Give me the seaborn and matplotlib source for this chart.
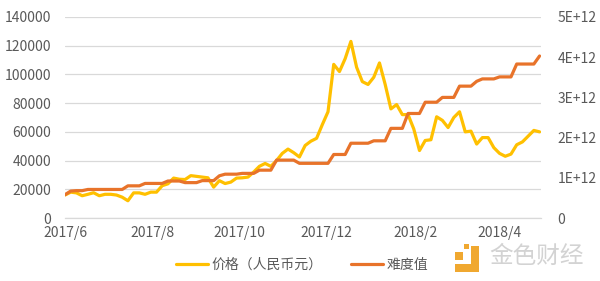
import numpy as np
import pandas as pd
import matplotlib
matplotlib.use("Agg")
import matplotlib.pyplot as plt
from matplotlib.patches import Rectangle
import seaborn as sns

# ---- data (one value every 4 days from 2017-06-01) ----
start_date = "2017-06-01"
step_days = 4
price = [16000, 18000, 17500, 15500, 16500, 17600, 15500, 16500, 16500, 16000,
         14500, 12000, 17500, 17500, 16500, 18000, 18000, 22500, 23800, 27800,
         27000, 26800, 29500, 29000, 28500, 28000, 21500, 26000, 24000, 25000,
         27800, 28000, 28500, 32000, 36000, 38000, 36000, 40000, 45000, 48000,
         45500, 42500, 50500, 53500, 55500, 65000, 74000, 107000, 102000, 111000,
         123000, 105000, 95000, 93000, 98000, 108000, 93000, 76000, 79000, 72000,
         72000, 62000, 47000, 54000, 54500, 70500, 68000, 63000, 70000, 74000,
         60000, 60500, 51500, 56000, 56000, 49000, 45000, 43000, 44500, 51000,
         53000, 57000, 61000, 60000]
difficulty_e12 = [0.58, 0.67, 0.68, 0.68, 0.71, 0.71, 0.71, 0.71, 0.71, 0.71,
                  0.71, 0.80, 0.80, 0.80, 0.86, 0.86, 0.86, 0.86, 0.92, 0.92,
                  0.92, 0.88, 0.88, 0.88, 0.93, 0.93, 0.93, 1.05, 1.09, 1.09,
                  1.09, 1.11, 1.11, 1.11, 1.19, 1.19, 1.19, 1.44, 1.44, 1.44,
                  1.44, 1.36, 1.36, 1.36, 1.36, 1.36, 1.36, 1.58, 1.58, 1.58,
                  1.86, 1.86, 1.86, 1.86, 1.92, 1.92, 1.92, 2.23, 2.23, 2.23,
                  2.60, 2.60, 2.60, 2.88, 2.88, 2.88, 3.00, 3.00, 3.00, 3.28,
                  3.28, 3.28, 3.40, 3.46, 3.46, 3.46, 3.51, 3.51, 3.51, 3.83,
                  3.83, 3.83, 3.83, 4.03]
tick_dates = ["2017-06-01", "2017-08-01", "2017-10-01", "2017-12-01", "2018-02-01", "2018-04-01"]
tick_labels = ["2017/6", "2017/8", "2017/10", "2017/12", "2018/2", "2018/4"]
left_ticks = [0, 20000, 40000, 60000, 80000, 100000, 120000, 140000]
right_ticks = [0, 1e12, 2e12, 3e12, 4e12, 5e12]
right_labels = ["0", "1E+12", "2E+12", "3E+12", "4E+12", "5E+12"]
series_names = ["价格（人民币元）", "难度值"]

dates = pd.date_range(start_date, periods=len(price), freq=f"{step_days}D")
df = pd.DataFrame({"date": dates, "price": price,
                   "difficulty": np.array(difficulty_e12) * 1e12})

sns.set_theme(style="white")
plt.rcParams["font.family"] = ["Noto Sans CJK SC", "DejaVu Sans"]

YELLOW = "#FFC000"
ORANGE = "#E8732A"
TXT = "#595959"
GRID = "#D9D9D9"

fig = plt.figure(figsize=(6.0, 2.81), dpi=100)
ax = fig.add_axes([65 / 600, 1 - 218 / 281, 476 / 600, 201 / 281])
ax2 = ax.twinx()

sns.lineplot(data=df, x="date", y="price", ax=ax, color=YELLOW, linewidth=2.3,
             label=series_names[0], legend=False)
sns.lineplot(data=df, x="date", y="difficulty", ax=ax2, color=ORANGE, linewidth=2.3,
             label=series_names[1], legend=False)

ax.set_xlim(pd.Timestamp("2017-06-01"), pd.Timestamp("2018-04-30"))
ax.set_ylim(0, 140000)
ax2.set_ylim(0, 5e12)

ax.set_yticks(left_ticks)
ax.set_yticklabels([str(v) for v in left_ticks])
ax2.set_yticks(right_ticks)
ax2.set_yticklabels(right_labels)
ax.set_xticks(pd.to_datetime(tick_dates))
ax.set_xticklabels(tick_labels)

ax.grid(axis="y", color=GRID, linewidth=0.9)
ax.set_axisbelow(True)
ax.set_xlabel("")
ax.set_ylabel("")
ax2.set_ylabel("")
for a in (ax, ax2):
    for s in ("top", "left", "right"):
        a.spines[s].set_visible(False)
    a.spines["bottom"].set_visible(False)
ax.spines["bottom"].set_visible(True)
ax.spines["bottom"].set_color(GRID)
ax.spines["bottom"].set_linewidth(0.9)

ax.tick_params(axis="x", colors=TXT, labelsize=10, length=4, width=0.9,
               color=GRID, direction="out", pad=2)
ax.tick_params(axis="y", colors=TXT, labelsize=10, length=0, pad=10)
ax2.tick_params(axis="y", colors=TXT, labelsize=10, length=0, pad=12)

# legend
h1 = ax.get_lines()[0]
h2 = ax2.get_lines()[0]
fig.legend([h1, h2], series_names, loc="center", bbox_to_anchor=(302 / 600, 1 - 265 / 281),
           ncol=2, frameon=False, fontsize=10, handlelength=2.3, handletextpad=0.3,
           columnspacing=2.0, labelcolor=TXT)

# watermark
fig.text(537 / 600, 1 - 256 / 281, "金色财经", ha="center", va="center",
         fontsize=17, color="#D3D3D3")
for (x0, y0, w, h) in [(471, 246, 8, 26), (455, 264, 24, 8), (455, 252, 8, 8), (464, 244, 5, 5)]:
    fig.add_artist(Rectangle((x0 / 600, 1 - (y0 + h) / 281), w / 600, h / 281,
                             transform=fig.transFigure, color="#F0A830", lw=0))

fig.savefig("out.png", dpi=100)
